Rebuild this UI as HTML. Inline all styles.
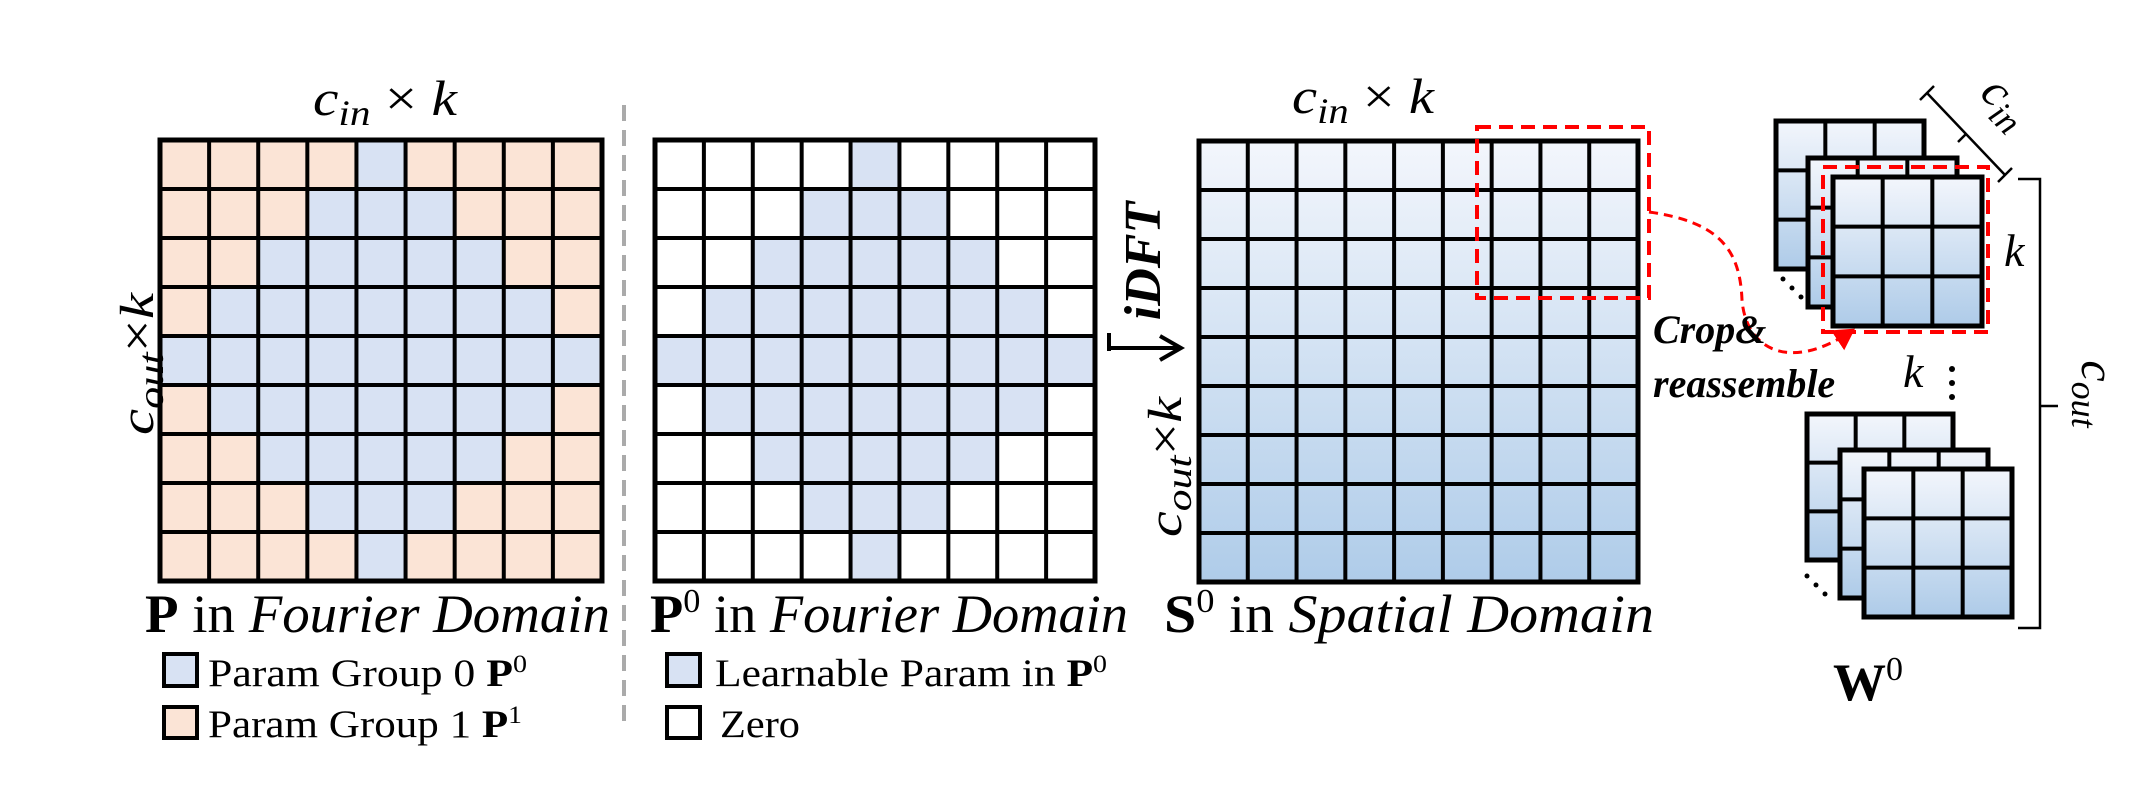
<!DOCTYPE html>
<html><head><meta charset="utf-8"><style>
html,body{margin:0;padding:0;background:#fff;}
svg{display:block;}
text{font-family:"Liberation Serif",serif;fill:#000;}
</style></head><body>
<svg id="fig" width="2130" height="800" viewBox="0 0 2130 800" xmlns="http://www.w3.org/2000/svg">
<defs>
<linearGradient id="gS" x1="0" y1="0" x2="0" y2="1"><stop offset="0" stop-color="#f3f6fc"/><stop offset="1" stop-color="#afcce9"/></linearGradient>
<linearGradient id="gK" x1="0" y1="0" x2="0" y2="1"><stop offset="0" stop-color="#f3f6fc"/><stop offset="1" stop-color="#aecbe8"/></linearGradient>
<marker id="ah" markerWidth="8" markerHeight="8" refX="5" refY="4" orient="auto" markerUnits="strokeWidth"><path d="M0,0 L7,4 L0,8 z" fill="#f00"/></marker>
</defs>
<g id="grids"></g>

<line x1="624" y1="105" x2="624" y2="722" stroke="#aaa" stroke-width="4" stroke-dasharray="16 9"/>

<text x="313" y="115" font-size="50" font-style="italic" textLength="144" lengthAdjust="spacingAndGlyphs">c<tspan font-size="36" dy="10">in</tspan><tspan font-style="normal" dy="-10"> × </tspan>k</text>
<text transform="translate(153,364) rotate(-90)" text-anchor="middle" font-size="48" font-style="italic" textLength="142" lengthAdjust="spacingAndGlyphs">c<tspan font-size="36" dy="10">out</tspan><tspan font-style="normal" dy="-10">×</tspan>k</text>
<text x="1292" y="113" font-size="50" font-style="italic" textLength="142" lengthAdjust="spacingAndGlyphs">c<tspan font-size="36" dy="10">in</tspan><tspan font-style="normal" dy="-10"> × </tspan>k</text>
<text transform="translate(1181,467) rotate(-90)" text-anchor="middle" font-size="48" font-style="italic" textLength="140" lengthAdjust="spacingAndGlyphs">c<tspan font-size="36" dy="10">out</tspan><tspan font-style="normal" dy="-10">×</tspan>k</text>

<text transform="translate(1160,261) rotate(-90)" text-anchor="middle" font-size="52" font-weight="bold" font-style="italic">iDFT</text>
<g stroke="#000" stroke-width="4" fill="none">
<line x1="1109" y1="333" x2="1109" y2="351"/>
<line x1="1109" y1="348" x2="1180" y2="348"/>
<path d="M1160 336 L1181 348 L1160 360"/>
</g>

<text x="145" y="632" font-size="54" textLength="465" lengthAdjust="spacingAndGlyphs"><tspan font-weight="bold">P</tspan> in <tspan font-style="italic">Fourier Domain</tspan></text>
<text x="650" y="632" font-size="54" textLength="478" lengthAdjust="spacingAndGlyphs"><tspan font-weight="bold">P</tspan><tspan font-size="34" dy="-20">0</tspan><tspan dy="20"> in </tspan><tspan font-style="italic">Fourier Domain</tspan></text>
<text x="1164" y="632" font-size="54" textLength="490" lengthAdjust="spacingAndGlyphs"><tspan font-weight="bold">S</tspan><tspan font-size="34" dy="-20">0</tspan><tspan dy="20"> in </tspan><tspan font-style="italic">Spatial Domain</tspan></text>

<g>
<rect x="164" y="654" width="33" height="32" fill="#d8e2f3" stroke="#000" stroke-width="4"/>
<text x="208" y="686" font-size="39" textLength="319" lengthAdjust="spacingAndGlyphs">Param Group 0 <tspan font-weight="bold">P</tspan><tspan font-size="25" dy="-14">0</tspan></text>
</g>
<g>
<rect x="164" y="707" width="33" height="31" fill="#fbe4d6" stroke="#000" stroke-width="4"/>
<text x="208" y="737" font-size="39" textLength="314" lengthAdjust="spacingAndGlyphs">Param Group 1 <tspan font-weight="bold">P</tspan><tspan font-size="25" dy="-14">1</tspan></text>
</g>
<g>
<rect x="667" y="654" width="33" height="32" fill="#d8e2f3" stroke="#000" stroke-width="4"/>
<text x="715" y="686" font-size="39" textLength="392" lengthAdjust="spacingAndGlyphs">Learnable Param in <tspan font-weight="bold">P</tspan><tspan font-size="25" dy="-14">0</tspan></text>
</g>
<g>
<rect x="667" y="707" width="33" height="31" fill="#fff" stroke="#000" stroke-width="4"/>
<text x="720" y="737" font-size="39" textLength="80" lengthAdjust="spacingAndGlyphs">Zero</text>
</g>

<rect x="1477" y="127" width="172" height="171" fill="none" stroke="#f00" stroke-width="4" stroke-dasharray="14 8"/>
<path d="M1649 212 C1720 222 1740 250 1742 300 C1746 350 1790 372 1850 332" fill="none" stroke="#f00" stroke-width="3" stroke-dasharray="9 6" marker-end="url(#ah)"/>
<text x="1653" y="343" font-size="40" font-weight="bold" font-style="italic">Crop&amp;</text>
<text x="1653" y="397" font-size="40" font-weight="bold" font-style="italic">reassemble</text>

<g id="kernels"></g>
<rect x="1823" y="167" width="165" height="165" fill="none" stroke="#f00" stroke-width="4" stroke-dasharray="14 8"/>

<text x="2004" y="266" font-size="46" font-style="italic">k</text>
<text x="1903" y="387" font-size="46" font-style="italic">k</text>
<g fill="#000"><circle cx="1952" cy="369" r="3"/><circle cx="1952" cy="383" r="3"/><circle cx="1952" cy="397" r="3"/></g>
<g fill="#000"><circle cx="1783" cy="279" r="2.5"/><circle cx="1792" cy="288" r="2.5"/><circle cx="1801" cy="297" r="2.5"/></g>
<g fill="#000"><circle cx="1807" cy="576" r="2.5"/><circle cx="1816" cy="585" r="2.5"/><circle cx="1825" cy="594" r="2.5"/></g>

<g stroke="#000" stroke-width="2.5" fill="none">
<path d="M2018 179 L2040 179 L2040 628 L2018 628"/>
<line x1="2040" y1="406" x2="2058" y2="406"/>
</g>
<text transform="translate(2082,394) rotate(90)" text-anchor="middle" font-size="48" font-style="italic">c<tspan font-size="36" dy="10">out</tspan></text>
<g stroke="#000" stroke-width="2.5" fill="none">
<line x1="1927" y1="93" x2="2005" y2="175"/>
<line x1="1920" y1="100" x2="1934" y2="86"/>
<line x1="1998" y1="182" x2="2012" y2="168"/>
<line x1="1966" y1="134" x2="1958" y2="142"/>
</g>
<text transform="translate(1996,112) rotate(45)" text-anchor="middle" font-size="48" font-style="italic">c<tspan font-size="36" dy="10">in</tspan></text>

<text x="1833" y="700" font-size="53"><tspan font-weight="bold">W</tspan><tspan font-size="34" dy="-20">0</tspan></text>
</svg>
<script>
// Grid data
const gridRows = 9;
const gridCols = 9;
const rowRadius = [0, 1, 2, 3, 4, 3, 2, 1, 0];
const kernelSize = 3;

const NS = "http://www.w3.org/2000/svg";
function mk(tag, attrs, parent) {
  const e = document.createElementNS(NS, tag);
  for (const k in attrs) e.setAttribute(k, attrs[k]);
  parent.appendChild(e);
  return e;
}
const gridsG = document.getElementById('grids');

function drawGrid(name, x0, y0, w, h, fillFn, bg) {
  const g = mk('g', {}, gridsG);
  
  
  const cw = w / gridCols, ch = h / gridRows;
  if (bg) {
    const r = mk('rect', {x: x0, y: y0, width: w, height: h, fill: bg}, g);
    
    
  }
  if (fillFn) {
    for (let i = 0; i < gridRows; i++) {
      for (let j = 0; j < gridCols; j++) {
        const c = mk('rect', {x: x0 + j * cw, y: y0 + i * ch, width: cw, height: ch, fill: fillFn(i, j)}, g);
        
        
      }
    }
  }
  for (let i = 1; i < gridRows; i++) {
    const l = mk('line', {x1: x0, x2: x0 + w, y1: y0 + i * ch, y2: y0 + i * ch, stroke: '#000', 'stroke-width': 4}, g);
    
    
  }
  for (let j = 1; j < gridCols; j++) {
    const l = mk('line', {x1: x0 + j * cw, x2: x0 + j * cw, y1: y0, y2: y0 + h, stroke: '#000', 'stroke-width': 4}, g);
    
    
  }
  const b = mk('rect', {x: x0, y: y0, width: w, height: h, fill: 'none', stroke: '#000', 'stroke-width': 5}, g);
  
  
}
const mid = (gridCols - 1) / 2;
const isBlue = (i, j) => Math.abs(j - mid) <= rowRadius[i];
drawGrid('grid-p-fourier', 160, 140, 442, 441, (i, j) => isBlue(i, j) ? '#d8e2f3' : '#fbe4d6');
drawGrid('grid-p0-fourier', 655, 140, 440, 441, (i, j) => isBlue(i, j) ? '#d8e2f3' : '#ffffff');
drawGrid('grid-s0-spatial', 1199, 141, 439, 441, null, 'url(#gS)');

// kernel stacks
const kG = document.getElementById('kernels');
const kernels = [
  [1776, 121, 148], [1808, 158, 149], [1833, 177, 149],
  [1807, 414, 146], [1840, 450, 148], [1864, 469, 148]
];
kernels.forEach((k, idx) => {
  const [x, y, s] = k;
  const g = mk('g', {}, kG);
  
  
  mk('rect', {x: x, y: y, width: s, height: s, fill: 'url(#gK)', stroke: '#000', 'stroke-width': 5}, g);
  const c = s / kernelSize;
  for (let i = 1; i < kernelSize; i++) {
    mk('line', {x1: x, x2: x + s, y1: y + i * c, y2: y + i * c, stroke: '#000', 'stroke-width': 4}, g);
    mk('line', {x1: x + i * c, x2: x + i * c, y1: y, y2: y + s, stroke: '#000', 'stroke-width': 4}, g);
  }
});
</script>
</body></html>
